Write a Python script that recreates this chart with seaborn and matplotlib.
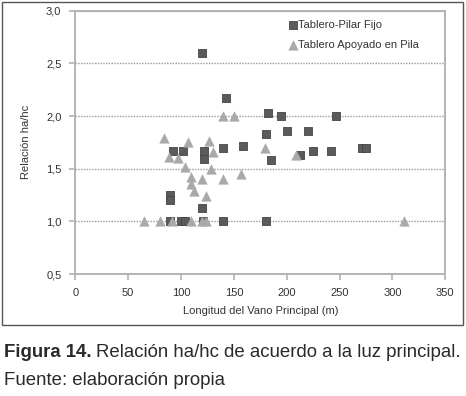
import matplotlib
matplotlib.use("Agg")
import matplotlib.pyplot as plt
import matplotlib.ticker as mticker
from matplotlib.patches import Rectangle
import pandas as pd
import seaborn as sns

# Tablero-Pilar Fijo (squares)
fijo_luz = [120, 143, 182, 195, 247, 180, 200, 220, 92, 102, 122, 122, 140, 159,
            185, 213, 225, 242, 271, 275, 90, 90, 120, 90, 100, 104, 121, 140, 180]
fijo_rel = [2.60, 2.17, 2.03, 2.00, 2.00, 1.83, 1.86, 1.86, 1.67, 1.67, 1.67, 1.59, 1.70, 1.72,
            1.58, 1.63, 1.67, 1.67, 1.70, 1.70, 1.25, 1.20, 1.13, 1.00, 1.00, 1.00, 1.00, 1.00, 1.00]

# Tablero Apoyado en Pila (triangles)
apoyo_luz = [84, 89, 97, 107, 104, 109, 109, 112, 120, 126, 130, 128, 140, 150,
             140, 124, 157, 179, 209, 65, 80, 91, 109, 120, 124, 311]
apoyo_rel = [1.79, 1.61, 1.60, 1.75, 1.52, 1.42, 1.35, 1.29, 1.40, 1.76, 1.66, 1.50, 2.00, 2.00,
             1.40, 1.24, 1.45, 1.70, 1.63, 1.00, 1.00, 1.00, 1.00, 1.00, 1.00, 1.00]

series_names = ["Tablero-Pilar Fijo", "Tablero Apoyado en Pila"]
x_ticks = [0, 50, 100, 150, 200, 250, 300, 350]
y_ticks = [0.5, 1.0, 1.5, 2.0, 2.5, 3.0]

df = pd.DataFrame({
    "luz": fijo_luz + apoyo_luz,
    "rel": fijo_rel + apoyo_rel,
    "tipo": [series_names[0]] * len(fijo_luz) + [series_names[1]] * len(apoyo_luz),
})

sns.set_style("white")
plt.rcParams["font.family"] = ["Liberation Sans", "DejaVu Sans"]

fig = plt.figure(figsize=(4.66, 3.96), dpi=100)
ax = fig.add_axes([0.1616, 0.308, 0.794, 0.665])

axis_grey = "#b3b3b3"
text_col = "#333333"

sns.scatterplot(data=df[df.tipo == series_names[0]], x="luz", y="rel", ax=ax,
                marker="s", s=30, color="#5b5b5b", edgecolor="#444444", linewidth=0.6,
                label=series_names[0], zorder=3)
sns.scatterplot(data=df[df.tipo == series_names[1]], x="luz", y="rel", ax=ax,
                marker="^", s=48, color="#a9a9a9", edgecolor="#a9a9a9", linewidth=0.3,
                label=series_names[1], zorder=3)

ax.set_xlim(0, 350)
ax.set_ylim(0.5, 3.0)
ax.set_xticks(x_ticks)
ax.set_yticks(y_ticks)
ax.yaxis.set_major_formatter(mticker.FuncFormatter(lambda v, p: f"{v:.1f}".replace(".", ",")))
ax.yaxis.grid(True, linestyle=(0, (1, 1)), color="#9a9a9a", linewidth=1.0)
ax.xaxis.grid(False)

for side in ["left", "bottom", "top", "right"]:
    ax.spines[side].set_color(axis_grey)
    ax.spines[side].set_linewidth(1.4)

ax.tick_params(axis="both", direction="out", length=4, width=1.2, color=axis_grey,
               labelsize=8, labelcolor=text_col, pad=6, bottom=True, left=True)

ax.set_xlabel("Longitud del Vano Principal (m)", fontsize=8, color=text_col, labelpad=6)
ax.set_ylabel("Relación ha/hc", fontsize=8, color=text_col, labelpad=11)

ax.legend(loc="upper left", bbox_to_anchor=(0.56, 0.98), frameon=False,
          fontsize=8, handletextpad=0.0, labelspacing=0.9, borderaxespad=0,
          handlelength=1.0, labelcolor=text_col)

# outer chart frame
fig.patches.append(Rectangle((0.0043, 0.179), 0.989, 0.816, transform=fig.transFigure,
                             fill=False, edgecolor="#555555", linewidth=1.0))

# caption
cap_size = 13.4
t1 = fig.text(0.009, 0.111, "Figura 14.", fontsize=cap_size, fontweight="bold",
              color="#2a2a2a", va="center")
fig.canvas.draw()
bb = t1.get_window_extent().transformed(fig.transFigure.inverted())
fig.text(bb.x1 + 0.008, 0.111, "Relación ha/hc de acuerdo a la luz principal.", fontsize=cap_size,
         color="#2a2a2a", va="center")
fig.text(0.009, 0.040, "Fuente: elaboración propia", fontsize=cap_size,
         color="#2a2a2a", va="center")

fig.savefig("out.png", dpi=100)
